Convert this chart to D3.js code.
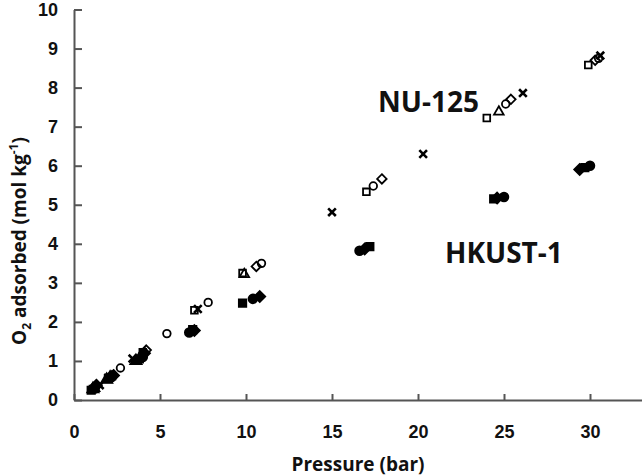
<!DOCTYPE html>
<html>
<head>
<meta charset="utf-8">
<script src="https://cdn.jsdelivr.net/npm/d3@7"></script>
<style>
  body { margin: 0; background: #fff; }
  svg { display: block; font-family: "Open Sans", "Liberation Sans", sans-serif; }
</style>
</head>
<body>
<svg id="chart"></svg>
<script>
// NU-125 (open markers)
const nuSquareP = [1.1, 2.0, 4.0, 7.0, 9.8, 17.0, 24.0, 29.9];
const nuSquareQ = [0.28, 0.57, 1.22, 2.3, 3.25, 5.33, 7.22, 8.58];
const nuTriangleP = [1.2, 2.1, 3.9, 9.9, 24.7];
const nuTriangleQ = [0.3, 0.6, 1.15, 3.22, 7.38];
const nuCircleP = [2.7, 5.4, 7.8, 10.9, 17.4, 25.1, 30.5];
const nuCircleQ = [0.82, 1.7, 2.5, 3.5, 5.48, 7.58, 8.75];
const nuDiamondP = [1.3, 2.2, 4.2, 10.6, 17.9, 25.4, 30.3];
const nuDiamondQ = [0.35, 0.62, 1.28, 3.42, 5.66, 7.7, 8.7];
const nuCrossP = [1.5, 3.4, 7.2, 15.0, 20.3, 26.1, 30.6];
const nuCrossQ = [0.38, 1.06, 2.33, 4.81, 6.3, 7.86, 8.82];

// HKUST-1 (filled markers)
const hkSquareP = [1.0, 2.0, 3.8, 6.9, 9.8, 17.2, 24.4, 29.7];
const hkSquareQ = [0.25, 0.55, 1.05, 1.8, 2.48, 3.93, 5.15, 5.95];
const hkCircleP = [1.2, 2.2, 4.0, 6.7, 10.4, 16.6, 25.0, 30.0];
const hkCircleQ = [0.3, 0.6, 1.1, 1.73, 2.59, 3.82, 5.2, 6.0];
const hkDiamondP = [1.3, 2.3, 4.1, 7.0, 10.8, 16.9, 24.6, 29.4];
const hkDiamondQ = [0.38, 0.63, 1.2, 1.78, 2.65, 3.87, 5.17, 5.9];
const hkTriangleP = [1.1, 1.9, 3.6];
const hkTriangleQ = [0.28, 0.52, 1.0];

const xTicks = [0, 5, 10, 15, 20, 25, 30];
const yTicks = [0, 1, 2, 3, 4, 5, 6, 7, 8, 9, 10];

const width = 642, height = 476;
const svg = d3.select("#chart").attr("width", width).attr("height", height);

const x = d3.scaleLinear().domain([0, 33]).range([74, 74 + 33 * 17.2]);
const y = d3.scaleLinear().domain([0, 10]).range([400, 9.5]);

const axisColor = "#555";

const gx = svg.append("g")
  .attr("transform", `translate(0,${y(0)})`)
  .call(d3.axisBottom(x).tickValues(xTicks).tickSize(-6).tickSizeOuter(0).tickPadding(25));
gx.select(".domain").attr("stroke", axisColor).attr("stroke-width", 2);
gx.selectAll(".tick line").attr("stroke", axisColor).attr("stroke-width", 2);
gx.selectAll(".tick text")
  .attr("fill", "#111").style("font-size", "18px").style("font-weight", "bold");

const gy = svg.append("g")
  .attr("transform", `translate(${x(0)},0)`)
  .call(d3.axisLeft(y).tickValues(yTicks).tickSize(-8).tickSizeOuter(0).tickPadding(16));
gy.select(".domain").attr("stroke", axisColor).attr("stroke-width", 2);
gy.selectAll(".tick line").attr("stroke", axisColor).attr("stroke-width", 2);
gy.selectAll(".tick text")
  .attr("fill", "#111").style("font-size", "18px").style("font-weight", "bold");

// axis titles
svg.append("text")
  .attr("x", 358).attr("y", 471)
  .attr("text-anchor", "middle")
  .style("font-size", "19px").style("font-weight", "bold").attr("fill", "#111")
  .text("Pressure (bar)");

const yt = svg.append("text")
  .attr("transform", "translate(26,241) rotate(-90)")
  .attr("text-anchor", "middle")
  .style("font-size", "19px").style("font-weight", "bold").attr("fill", "#111");
yt.append("tspan").text("O");
yt.append("tspan").attr("dy", 5).style("font-size", "12px").text("2");
yt.append("tspan").attr("dy", -5).text(" adsorbed (mol kg");
yt.append("tspan").attr("dy", -8).style("font-size", "12px").text("-1");
yt.append("tspan").attr("dy", 8).text(")");

// Excel-style diamond: a square turned by 45 degrees
const diamond = {
  draw(ctx, size) {
    const r = Math.sqrt(size / 2);
    ctx.moveTo(0, -r);
    ctx.lineTo(r, 0);
    ctx.lineTo(0, r);
    ctx.lineTo(-r, 0);
    ctx.closePath();
  }
};

// series
const series = [
  { P: hkSquareP, Q: hkSquareQ, type: d3.symbolSquare, size: 55, filled: true },
  { P: hkCircleP, Q: hkCircleQ, type: d3.symbolCircle, size: 60, filled: true },
  { P: hkDiamondP, Q: hkDiamondQ, type: diamond, size: 60, filled: true },
  { P: hkTriangleP, Q: hkTriangleQ, type: d3.symbolTriangle, size: 55, filled: true },
  { P: nuSquareP, Q: nuSquareQ, type: d3.symbolSquare, size: 45, filled: false },
  { P: nuTriangleP, Q: nuTriangleQ, type: d3.symbolTriangle, size: 40, filled: false },
  { P: nuCircleP, Q: nuCircleQ, type: d3.symbolCircle, size: 45, filled: false },
  { P: nuDiamondP, Q: nuDiamondQ, type: diamond, size: 45, filled: false },
  { P: nuCrossP, Q: nuCrossQ, type: d3.symbolTimes, size: 40, filled: false, cross: true }
];

series.forEach((s) => {
  const pts = s.P.map((p, i) => [p, s.Q[i]]);
  svg.append("g")
    .selectAll("path")
    .data(pts)
    .enter()
    .append("path")
    .attr("transform", (d) => `translate(${x(d[0])},${y(d[1])})`)
    .attr("d", d3.symbol().type(s.type).size(s.size))
    .attr("fill", s.filled ? "#000" : "none")
    .attr("stroke", "#000")
    .attr("stroke-width", s.cross ? 2.6 : 1.8);
});

// labels
svg.append("text")
  .attr("x", 378).attr("y", 112)
  .style("font-size", "28px").style("font-weight", "bold").attr("fill", "#111")
  .text("NU-125");
svg.append("text")
  .attr("x", 445).attr("y", 263)
  .style("font-size", "28px").style("font-weight", "bold").attr("fill", "#111")
  .text("HKUST-1");
</script>
</body>
</html>
